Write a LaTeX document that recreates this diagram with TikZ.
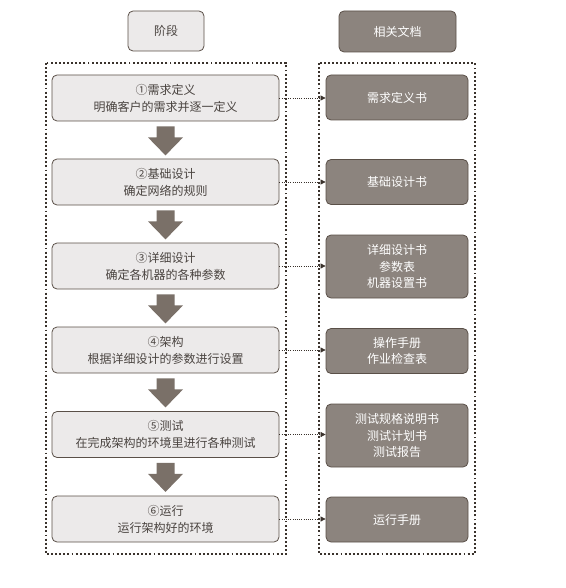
\documentclass[tikz,border=0pt]{standalone}
\usepackage{fontspec}
\newfontfamily\cjk{Noto Sans CJK SC}
\usetikzlibrary{arrows.meta}
\definecolor{lightbox}{HTML}{ECEAEA}
\definecolor{darkbox}{HTML}{8C847E}
\definecolor{edgec}{HTML}{5A5048}
\definecolor{arrowc}{HTML}{7A7068}
\definecolor{txtc}{HTML}{4A4440}
\definecolor{dotc}{HTML}{3A322C}
\begin{document}
\begin{tikzpicture}[x=1pt,y=-1pt,
  stage/.style={draw=edgec, line width=0.8pt, fill=lightbox, rounded corners=5pt,
    minimum width=227pt, minimum height=46pt, inner sep=0pt, align=center,
    text=txtc, font=\cjk\fontsize{12}{17}\selectfont},
  doc/.style={draw=edgec, line width=0.8pt, fill=darkbox, rounded corners=5pt,
    minimum width=142pt, minimum height=45pt, inner sep=0pt, align=center,
    text=white, font=\cjk\fontsize{12}{16.5}\selectfont},
  tall/.style={minimum height=63pt},
  frame/.style={draw=dotc, line width=1.9pt, dash pattern=on 1.9pt off 2.2pt},
  conn/.style={draw=dotc, line width=0.7pt, dash pattern=on 1pt off 1.2pt,
    -{Triangle[length=5pt,width=5pt]}},
  bigarrow/.style={fill=arrowc}
]
\useasboundingbox (0,0) rectangle (565,588);

% headers
\node[stage, minimum width=76pt, minimum height=40pt] (h1) at (166,31) {阶段};
\node[doc, minimum width=117pt, minimum height=41pt] (h2) at (397.5,31.5) {相关文档};

% frames
\draw[frame] (46,63) rectangle (286,554);
\draw[frame] (319,63) rectangle (475,554);

% stages
\node[stage] (s1) at (165.5,98) {①需求定义\\明确客户的需求并逐一定义};
\node[stage] (s2) at (165.5,182) {②基础设计\\确定网络的规则};
\node[stage] (s3) at (165.5,266) {③详细设计\\确定各机器的各种参数};
\node[stage] (s4) at (165.5,350) {④架构\\根据详细设计的参数进行设置};
\node[stage] (s5) at (165.5,434.5) {⑤测试\\在完成架构的环境里进行各种测试};
\node[stage] (s6) at (165.5,519) {⑥运行\\运行架构好的环境};

% documents
\node[doc] (d1) at (397,97.5) {需求定义书};
\node[doc] (d2) at (397,182) {基础设计书};
\node[doc, tall] (d3) at (397,266.5) {详细设计书\\参数表\\机器设置书};
\node[doc] (d4) at (397,351) {操作手册\\作业检查表};
\node[doc, tall] (d5) at (397,435.5) {测试规格说明书\\测试计划书\\测试报告};
\node[doc] (d6) at (397,519.5) {运行手册};

% connectors
\foreach \i in {1,...,6}{
  \draw[conn] (s\i.east) -- (s\i.east -| d\i.west);
}

% big arrows
\foreach \i in {1,...,5}{
  \fill[bigarrow, shift={(s\i.south)}] (-9,5) -- (9,5) -- (9,16) -- (17.5,16)
    -- (0,34) -- (-17.5,16) -- (-9,16) -- cycle;
}
\end{tikzpicture}
\end{document}
